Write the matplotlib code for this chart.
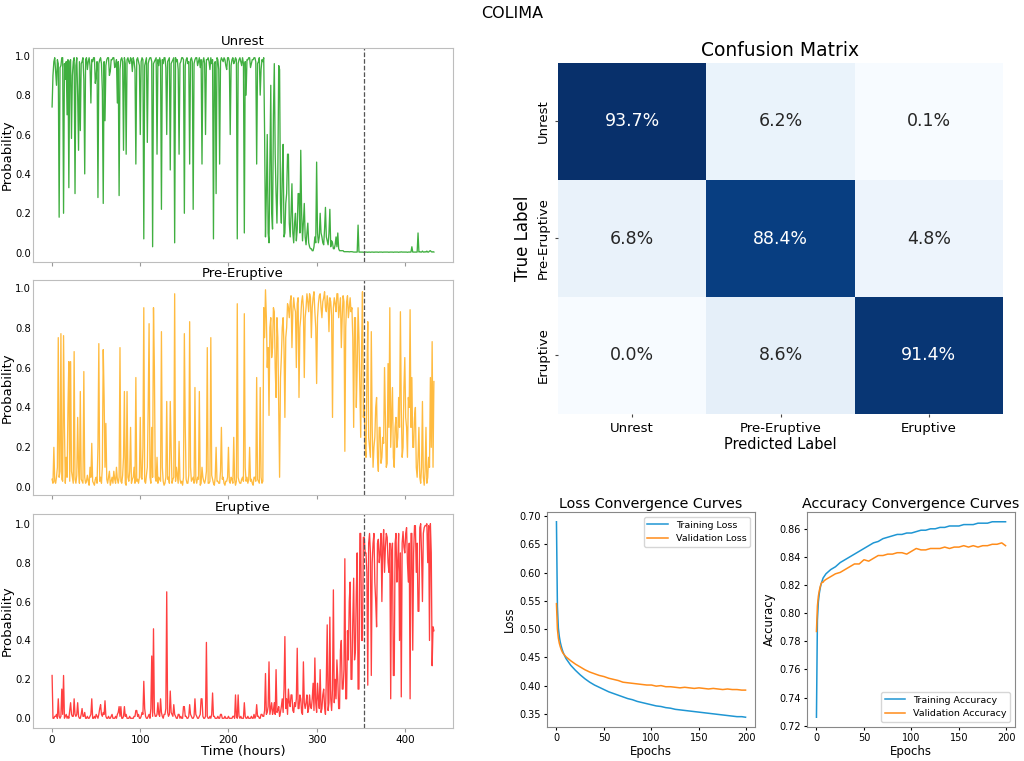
import numpy as np
import matplotlib
matplotlib.use("Agg")
import matplotlib.pyplot as plt
import seaborn as sns

# ---- hourly class probabilities, one value per hour from t = 0 h ----
eruption_hour = 354

unrest = [
    0.74, 0.90, 0.97, 0.99, 0.92, 0.85, 0.98, 0.96, 0.18, 0.94, 0.95, 0.99, 0.99, 0.20, 0.96, 0.88, 0.97, 0.70, 0.98, 0.33,
    0.97, 0.98, 0.58, 0.90, 0.97, 0.99, 0.30, 0.95, 0.99, 0.80, 0.52, 0.97, 0.62, 0.96, 0.97, 0.99, 0.88, 0.40, 0.98, 0.99,
    0.93, 0.97, 0.99, 0.95, 0.76, 0.98, 0.97, 0.99, 0.99, 0.86, 0.90, 0.97, 0.28, 0.96, 0.98, 0.99, 0.96, 0.82, 0.25, 0.97,
    0.67, 0.95, 0.98, 0.99, 0.99, 0.90, 0.92, 0.98, 0.98, 0.99, 0.99, 0.94, 0.95, 0.98, 0.76, 0.97, 0.29, 0.93, 0.98, 0.99,
    0.97, 0.52, 0.99, 0.96, 0.50, 0.98, 0.99, 0.97, 0.96, 0.99, 0.98, 0.92, 0.99, 0.97, 0.93, 0.45, 0.98, 0.99, 0.97, 0.95,
    0.60, 0.97, 0.99, 0.98, 0.07, 0.95, 0.97, 0.99, 0.56, 0.96, 0.98, 0.99, 0.99, 0.97, 0.03, 0.96, 0.97, 0.98, 0.99, 0.50,
    0.98, 0.95, 0.99, 0.97, 0.22, 0.98, 0.96, 0.99, 0.99, 0.94, 0.60, 0.97, 0.98, 0.99, 0.42, 0.96, 0.97, 0.98, 0.99, 0.05,
    0.99, 0.97, 0.98, 0.93, 0.50, 0.96, 0.97, 0.99, 0.99, 0.98, 0.20, 0.95, 0.98, 0.99, 0.96, 0.97, 0.45, 0.98, 0.99, 0.97,
    0.22, 0.96, 0.98, 0.99, 0.99, 0.95, 0.97, 0.99, 0.94, 0.98, 0.45, 0.97, 0.99, 0.96, 0.60, 0.98, 0.98, 0.99, 0.97, 0.93,
    0.99, 0.96, 0.98, 0.07, 0.96, 0.97, 0.30, 0.99, 0.98, 0.93, 0.45, 0.97, 0.99, 0.98, 0.97, 0.99, 0.98, 0.95, 0.93, 0.99,
    0.99, 0.97, 0.60, 0.95, 0.98, 0.99, 0.96, 0.97, 0.99, 0.98, 0.07, 0.96, 0.98, 0.99, 0.97, 0.95, 0.99, 0.96, 0.10, 0.97,
    0.80, 0.98, 0.98, 0.99, 0.99, 0.94, 0.96, 0.98, 0.98, 0.99, 0.99, 0.97, 0.45, 0.96, 0.97, 0.99, 0.80, 0.93, 0.98, 0.97,
    0.99, 0.60, 0.08, 0.30, 0.60, 0.10, 0.05, 0.45, 0.85, 0.20, 0.12, 0.70, 0.96, 0.50, 0.30, 0.15, 0.40, 0.95, 0.93, 0.25,
    0.15, 0.40, 0.55, 0.08, 0.10, 0.25, 0.30, 0.50, 0.50, 0.15, 0.08, 0.20, 0.35, 0.10, 0.05, 0.15, 0.20, 0.06, 0.12, 0.30,
    0.30, 0.10, 0.52, 0.20, 0.06, 0.15, 0.25, 0.08, 0.04, 0.10, 0.15, 0.05, 0.03, 0.02, 0.02, 0.01, 0.01, 0.03, 0.08, 0.05,
    0.46, 0.10, 0.05, 0.08, 0.20, 0.10, 0.08, 0.05, 0.04, 0.12, 0.23, 0.08, 0.06, 0.04, 0.10, 0.22, 0.03, 0.06, 0.05, 0.02,
    0.02, 0.04, 0.08, 0.03, 0.10, 0.02, 0.01, 0.01, 0.01, 0.01, 0.01, 0.005, 0.005, 0.005, 0.005, 0.005, 0.005, 0.004, 0.005, 0.005,
    0.005, 0.004, 0.003, 0.003, 0.003, 0.003, 0.003, 0.14, 0.003, 0.003, 0.003, 0.003, 0.003, 0.002, 0.003, 0.003, 0.003, 0.003, 0.002, 0.003,
    0.003, 0.002, 0.003, 0.003, 0.003, 0.002, 0.003, 0.003, 0.003, 0.003, 0.002, 0.003, 0.003, 0.003, 0.003, 0.002, 0.003, 0.003, 0.003, 0.003,
    0.003, 0.003, 0.002, 0.003, 0.003, 0.003, 0.003, 0.002, 0.003, 0.003, 0.003, 0.003, 0.003, 0.002, 0.003, 0.003, 0.004, 0.003, 0.003, 0.003,
    0.003, 0.003, 0.003, 0.002, 0.003, 0.003, 0.003, 0.003, 0.03, 0.003, 0.003, 0.003, 0.003, 0.003, 0.003, 0.10, 0.003, 0.005, 0.003, 0.003,
    0.008, 0.003, 0.003, 0.005, 0.003, 0.008, 0.003, 0.003, 0.008, 0.01, 0.005, 0.003, 0.005, 0.003,
]

pre_eruptive = [
    0.04, 0.02, 0.20, 0.03, 0.02, 0.05, 0.10, 0.75, 0.05, 0.08, 0.77, 0.04, 0.03, 0.76, 0.30, 0.02, 0.15, 0.05, 0.40, 0.63,
    0.03, 0.63, 0.08, 0.05, 0.02, 0.68, 0.04, 0.02, 0.06, 0.35, 0.10, 0.02, 0.48, 0.04, 0.03, 0.02, 0.58, 0.05, 0.02, 0.03,
    0.06, 0.03, 0.01, 0.10, 0.05, 0.22, 0.03, 0.02, 0.01, 0.04, 0.05, 0.02, 0.20, 0.72, 0.03, 0.05, 0.02, 0.10, 0.69, 0.45,
    0.10, 0.32, 0.04, 0.02, 0.05, 0.08, 0.01, 0.03, 0.05, 0.02, 0.08, 0.04, 0.02, 0.10, 0.04, 0.02, 0.05, 0.70, 0.03, 0.02,
    0.06, 0.15, 0.48, 0.02, 0.01, 0.48, 0.05, 0.03, 0.08, 0.30, 0.02, 0.04, 0.05, 0.10, 0.02, 0.55, 0.03, 0.04, 0.02, 0.05,
    0.35, 0.05, 0.04, 0.20, 0.90, 0.03, 0.02, 0.06, 0.10, 0.40, 0.82, 0.05, 0.02, 0.30, 0.05, 0.90, 0.60, 0.05, 0.03, 0.15,
    0.02, 0.05, 0.04, 0.03, 0.78, 0.10, 0.03, 0.01, 0.02, 0.05, 0.43, 0.04, 0.05, 0.02, 0.43, 0.20, 0.02, 0.04, 0.05, 0.97,
    0.03, 0.10, 0.06, 0.02, 0.23, 0.04, 0.02, 0.03, 0.01, 0.05, 0.77, 0.30, 0.04, 0.02, 0.02, 0.06, 0.83, 0.10, 0.03, 0.04,
    0.05, 0.02, 0.50, 0.04, 0.02, 0.05, 0.04, 0.48, 0.01, 0.02, 0.10, 0.05, 0.03, 0.02, 0.04, 0.08, 0.70, 0.02, 0.02, 0.03,
    0.75, 0.06, 0.04, 0.02, 0.01, 0.05, 0.20, 0.03, 0.03, 0.02, 0.02, 0.08, 0.30, 0.04, 0.05, 0.02, 0.01, 0.03, 0.03, 0.05,
    0.20, 0.03, 0.02, 0.05, 0.04, 0.02, 0.25, 0.04, 0.01, 0.03, 0.92, 0.05, 0.03, 0.02, 0.02, 0.04, 0.05, 0.03, 0.87, 0.10,
    0.03, 0.05, 0.02, 0.04, 0.20, 0.03, 0.04, 0.02, 0.01, 0.05, 0.05, 0.03, 0.55, 0.04, 0.03, 0.02, 0.50, 0.05, 0.02, 0.03,
    0.90, 0.75, 0.99, 0.85, 0.60, 0.70, 0.36, 0.80, 0.85, 0.65, 0.70, 0.90, 0.88, 0.60, 0.45, 0.85, 0.75, 0.40, 0.05, 0.55,
    0.65, 0.80, 0.85, 0.70, 0.35, 0.75, 0.80, 0.92, 0.90, 0.85, 0.93, 0.96, 0.70, 0.88, 0.95, 0.90, 0.88, 0.60, 0.92, 0.95,
    0.45, 0.80, 0.85, 0.93, 0.96, 0.90, 0.55, 0.85, 0.90, 0.97, 0.93, 0.88, 0.97, 0.95, 0.75, 0.90, 0.95, 0.98, 0.88, 0.80,
    0.52, 0.85, 0.92, 0.96, 0.97, 0.90, 0.85, 0.93, 0.95, 0.98, 0.90, 0.88, 0.96, 0.92, 0.78, 0.95, 0.93, 0.86, 0.35, 0.90,
    0.95, 0.92, 0.88, 0.97, 0.97, 0.85, 0.90, 0.95, 0.70, 0.85, 0.96, 0.93, 0.18, 0.80, 0.93, 0.96, 0.85, 0.90, 0.95, 0.88,
    0.90, 0.75, 0.30, 0.85, 0.85, 0.40, 0.60, 0.90, 0.75, 0.50, 0.25, 0.70, 0.98, 0.35, 0.40, 0.20, 0.15, 0.55, 0.83, 0.25,
    0.20, 0.15, 0.78, 0.30, 0.10, 0.20, 0.25, 0.40, 0.45, 0.15, 0.08, 0.30, 0.30, 0.12, 0.15, 0.25, 0.22, 0.60, 0.35, 0.10,
    0.12, 0.62, 0.30, 0.90, 0.20, 0.35, 0.50, 0.15, 0.10, 0.30, 0.35, 0.20, 0.25, 0.45, 0.30, 0.88, 0.40, 0.15, 0.20, 0.50,
    0.65, 0.35, 0.30, 0.15, 0.45, 0.40, 0.89, 0.30, 0.55, 0.20, 0.20, 0.35, 0.40, 0.10, 0.05, 0.15, 0.30, 0.05, 0.02, 0.10,
    0.43, 0.05, 0.01, 0.08, 0.30, 0.02, 0.05, 0.15, 0.10, 0.55, 0.20, 0.73, 0.10, 0.53,
]

eruptive = [
    0.22, 0.00, 0.00, 0.01, 0.01, 0.02, 0.00, 0.10, 0.01, 0.00, 0.01, 0.15, 0.02, 0.22, 0.00, 0.01, 0.02, 0.00, 0.01, 0.00,
    0.04, 0.08, 0.02, 0.01, 0.01, 0.10, 0.02, 0.01, 0.02, 0.08, 0.01, 0.00, 0.00, 0.02, 0.05, 0.01, 0.01, 0.03, 0.00, 0.00,
    0.01, 0.00, 0.00, 0.01, 0.02, 0.10, 0.00, 0.00, 0.01, 0.00, 0.02, 0.01, 0.00, 0.02, 0.05, 0.07, 0.02, 0.01, 0.03, 0.02,
    0.09, 0.01, 0.00, 0.00, 0.01, 0.00, 0.00, 0.01, 0.02, 0.00, 0.00, 0.00, 0.01, 0.00, 0.02, 0.03, 0.06, 0.01, 0.06, 0.00,
    0.00, 0.01, 0.06, 0.01, 0.02, 0.00, 0.00, 0.00, 0.01, 0.00, 0.00, 0.00, 0.00, 0.01, 0.01, 0.04, 0.04, 0.01, 0.02, 0.00,
    0.00, 0.01, 0.03, 0.02, 0.19, 0.05, 0.01, 0.00, 0.00, 0.01, 0.02, 0.00, 0.05, 0.32, 0.01, 0.46, 0.03, 0.01, 0.01, 0.02,
    0.08, 0.02, 0.01, 0.10, 0.03, 0.01, 0.00, 0.02, 0.02, 0.05, 0.65, 0.03, 0.01, 0.02, 0.14, 0.03, 0.02, 0.01, 0.07, 0.02,
    0.01, 0.00, 0.00, 0.02, 0.02, 0.00, 0.01, 0.00, 0.00, 0.06, 0.06, 0.01, 0.01, 0.00, 0.00, 0.01, 0.07, 0.02, 0.01, 0.00,
    0.00, 0.01, 0.10, 0.02, 0.01, 0.00, 0.00, 0.01, 0.02, 0.10, 0.10, 0.01, 0.00, 0.00, 0.01, 0.39, 0.01, 0.00, 0.00, 0.01,
    0.00, 0.02, 0.13, 0.01, 0.01, 0.00, 0.00, 0.00, 0.01, 0.00, 0.00, 0.02, 0.02, 0.00, 0.00, 0.00, 0.01, 0.00, 0.00, 0.00,
    0.01, 0.00, 0.00, 0.00, 0.00, 0.01, 0.01, 0.00, 0.12, 0.01, 0.00, 0.12, 0.01, 0.00, 0.01, 0.00, 0.00, 0.00, 0.08, 0.01,
    0.00, 0.00, 0.01, 0.00, 0.00, 0.00, 0.01, 0.00, 0.00, 0.02, 0.00, 0.01, 0.07, 0.01, 0.01, 0.00, 0.00, 0.02, 0.02, 0.01,
    0.01, 0.04, 0.23, 0.02, 0.03, 0.06, 0.29, 0.02, 0.05, 0.08, 0.02, 0.04, 0.08, 0.02, 0.25, 0.03, 0.04, 0.06, 0.01, 0.03,
    0.06, 0.10, 0.03, 0.15, 0.42, 0.05, 0.10, 0.02, 0.15, 0.08, 0.06, 0.12, 0.12, 0.04, 0.03, 0.08, 0.06, 0.10, 0.36, 0.05,
    0.05, 0.12, 0.10, 0.03, 0.02, 0.29, 0.08, 0.05, 0.08, 0.12, 0.03, 0.05, 0.12, 0.06, 0.05, 0.10, 0.18, 0.04, 0.31, 0.08,
    0.03, 0.18, 0.10, 0.05, 0.25, 0.03, 0.05, 0.12, 0.15, 0.06, 0.02, 0.20, 0.48, 0.04, 0.08, 0.52, 0.10, 0.04, 0.15, 0.66,
    0.08, 0.20, 0.10, 0.30, 0.20, 0.05, 0.05, 0.35, 0.40, 0.15, 0.15, 0.25, 0.82, 0.10, 0.10, 0.45, 0.30, 0.60, 0.70, 0.20,
    0.20, 0.50, 0.72, 0.30, 0.35, 0.65, 0.85, 0.15, 0.15, 0.95, 0.95, 0.40, 0.40, 0.93, 0.93, 0.85, 0.85, 0.75, 0.17, 0.90,
    0.95, 0.85, 0.22, 0.80, 0.90, 0.95, 0.70, 0.60, 0.47, 0.90, 0.92, 0.80, 0.85, 0.95, 0.60, 0.88, 0.97, 0.75, 0.88, 0.95,
    0.93, 0.80, 0.75, 0.90, 0.10, 0.85, 0.90, 0.22, 0.22, 0.90, 0.95, 0.70, 0.80, 0.95, 0.40, 0.85, 0.11, 0.90, 0.96, 0.88,
    0.85, 0.95, 0.98, 0.80, 0.70, 0.90, 0.10, 0.95, 0.95, 0.35, 0.85, 0.99, 0.99, 0.75, 0.90, 0.55, 0.55, 0.98, 1.00, 0.85,
    0.60, 0.95, 0.98, 0.99, 0.99, 1.00, 0.80, 0.99, 0.40, 1.00, 0.85, 0.27, 0.47, 0.45,
]

# ---- confusion matrix (percent) ----
class_names = ["Unrest", "Pre-Eruptive", "Eruptive"]
cm_percent = [
    [93.7, 6.2, 0.1],
    [6.8, 88.4, 4.8],
    [0.0, 8.6, 91.4],
]

# ---- training history ----
epochs = [0, 1, 2, 3, 4, 5, 6, 7, 8, 10] + list(range(15, 200, 5)) + [199]
train_loss = [
    0.690, 0.540, 0.502, 0.487, 0.477, 0.470, 0.464, 0.459, 0.455, 0.448,
    0.436, 0.427, 0.419, 0.412, 0.406, 0.401, 0.397, 0.393, 0.389, 0.386,
    0.383, 0.380, 0.377, 0.375, 0.372, 0.370, 0.368, 0.366, 0.364, 0.363,
    0.361, 0.360, 0.358, 0.357, 0.356, 0.355, 0.354, 0.353, 0.352, 0.351,
    0.350, 0.349, 0.348, 0.347, 0.346, 0.345, 0.345, 0.344,
]
val_loss = [
    0.545, 0.500, 0.484, 0.475, 0.469, 0.464, 0.460, 0.457, 0.455, 0.451,
    0.444, 0.438, 0.433, 0.428, 0.424, 0.421, 0.418, 0.416, 0.413, 0.411,
    0.409, 0.406, 0.405, 0.404, 0.403, 0.402, 0.401, 0.401, 0.399, 0.400,
    0.398, 0.398, 0.397, 0.396, 0.397, 0.396, 0.395, 0.396, 0.395, 0.394,
    0.395, 0.394, 0.393, 0.394, 0.393, 0.393, 0.392, 0.392,
]
train_acc = [
    0.726, 0.795, 0.808, 0.814, 0.818, 0.821, 0.823, 0.825, 0.826, 0.828,
    0.831, 0.833, 0.836, 0.838, 0.840, 0.842, 0.844, 0.846, 0.848, 0.850,
    0.851, 0.853, 0.854, 0.855, 0.856, 0.856, 0.857, 0.857, 0.858, 0.859,
    0.859, 0.860, 0.860, 0.861, 0.861, 0.862, 0.862, 0.862, 0.863, 0.863,
    0.863, 0.864, 0.864, 0.864, 0.865, 0.865, 0.865, 0.865,
]
val_acc = [
    0.787, 0.805, 0.812, 0.816, 0.819, 0.821, 0.822, 0.822, 0.823, 0.824,
    0.826, 0.828, 0.829, 0.831, 0.833, 0.835, 0.835, 0.838, 0.837, 0.839,
    0.841, 0.841, 0.842, 0.842, 0.843, 0.843, 0.842, 0.844, 0.846, 0.845,
    0.845, 0.846, 0.846, 0.846, 0.847, 0.846, 0.847, 0.847, 0.848, 0.847,
    0.848, 0.847, 0.848, 0.848, 0.849, 0.849, 0.850, 0.848,
]

W, H = 1024, 761
fig = plt.figure(figsize=(W / 100, H / 100), dpi=100)


def px_axes(left, top, right, bottom):
    # axes placed by pixel box of the reference
    return fig.add_axes([left / W, 1 - bottom / H, (right - left) / W, (bottom - top) / H])


fig.text(0.5, 1 - 14 / H, "COLIMA", ha="center", va="center", fontsize=11.5)

frame_col = "#bdbdbd"
panels = [
    ("Unrest", unrest, "#009400", (33, 48, 453, 262)),
    ("Pre-Eruptive", pre_eruptive, "#ffa500", (33, 280, 453, 495)),
    ("Eruptive", eruptive, "#ff0000", (33, 514, 453, 728)),
]
for i, (name, probs, col, box) in enumerate(panels):
    ax = px_axes(*box)
    ax.plot(np.arange(len(probs)), probs, color=col, lw=0.95, alpha=0.75)
    ax.axvline(eruption_hour, color="#555555", ls="--", lw=0.9)
    ax.set_title(name, fontsize=9.5, pad=2)
    ax.set_ylabel("Probability", fontsize=9.5)
    ax.yaxis.set_label_coords(-0.046, 0.5)
    ax.set_xticks([0, 100, 200, 300, 400])
    ax.set_yticks([0, 0.2, 0.4, 0.6, 0.8, 1.0])
    ax.tick_params(axis="x", labelsize=7.5, color="#999999", length=3, pad=2)
    ax.tick_params(axis="y", labelsize=7.2, length=0, pad=1.5)
    for s in ax.spines.values():
        s.set_color(frame_col)
    if i < 2:
        ax.set_xticklabels([])
    else:
        ax.set_xlabel("Time (hours)", fontsize=9.5, labelpad=0)

# confusion matrix
axc = px_axes(558, 63, 1003, 414)
labels = [[f"{v:.1f}%" for v in row] for row in cm_percent]
sns.heatmap(np.array(cm_percent), annot=np.array(labels), fmt="", cmap="Blues",
            cbar=False, ax=axc, annot_kws={"fontsize": 12.5},
            xticklabels=class_names, yticklabels=class_names)
axc.set_title("Confusion Matrix", fontsize=13.5, pad=5)
axc.set_xlabel("Predicted Label", fontsize=10.5, labelpad=1)
axc.set_ylabel("True Label", fontsize=12, labelpad=3)
axc.tick_params(labelsize=9.5, color="#444444", length=2.5)
axc.set_yticklabels(class_names, rotation=90, va="center")

blue, orange = "#1f96d3", "#ff8c1a"

axl = px_axes(547, 512, 755, 727)
axl.plot(epochs, train_loss, color=blue, lw=1.1, label="Training Loss")
axl.plot(epochs, val_loss, color=orange, lw=1.1, label="Validation Loss")
axl.set_title("Loss Convergence Curves", fontsize=10.3, pad=3)
axl.set_xlabel("Epochs", fontsize=8.5, labelpad=1)
axl.set_ylabel("Loss", fontsize=8.5, labelpad=2)
axl.tick_params(labelsize=7, length=2.5, pad=2)
axl.legend(loc="upper right", fontsize=6.8, handlelength=2.2)

axa = px_axes(807, 512, 1015, 727)
axa.plot(epochs, train_acc, color=blue, lw=1.1, label="Training Accuracy")
axa.plot(epochs, val_acc, color=orange, lw=1.1, label="Validation Accuracy")
axa.set_title("Accuracy Convergence Curves", fontsize=10.3, pad=3)
axa.set_xlabel("Epochs", fontsize=8.5, labelpad=1)
axa.set_ylabel("Accuracy", fontsize=8.5, labelpad=2)
axa.tick_params(labelsize=7, length=2.5, pad=2)
axa.legend(loc="lower right", fontsize=6.8, handlelength=2.2)
for a in (axl, axa):
    for s in a.spines.values():
        s.set_color("#888888")

fig.savefig("out.png", dpi=100)
